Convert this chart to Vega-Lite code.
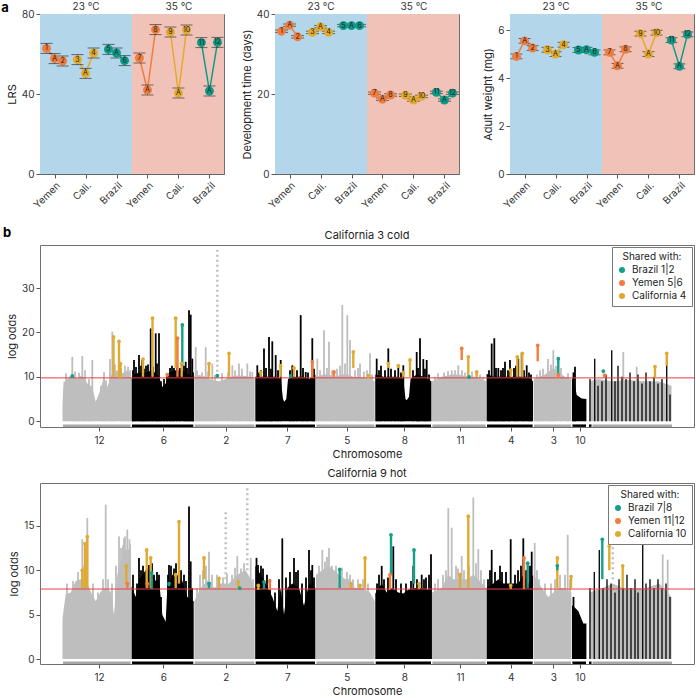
{
"$schema":"https://vega.github.io/schema/vega-lite/v6.json",
"padding":0,
"spacing":15,
"resolve":{"scale":{"color":"independent","fill":"independent"},"legend":{"color":"independent","fill":"independent"}},
"config":{
"font":"Inter",
"view":{"stroke":"#707070","strokeWidth":1},
"axis":{"labelFontSize":10,"titleFontSize":11,"titleFontWeight":"normal","labelColor":"#333333","titleColor":"#222222","tickColor":"#555555","domainColor":"#666666","grid":false,"tickSize":4},
"title":{"fontSize":11,"fontWeight":"normal","color":"#222222"}
},
"datasets":{
"bands":[{"s":0.53,"e":3.5,"c":"cold"},{"s":3.5,"e":6.47,"c":"hot"}],
"traits":[
{"pn":"L","g":1,"pop":"Yemen","lab":"1","x":0.74,"v":62.8,"lo":60.3,"hi":65.3},
{"pn":"L","g":1,"pop":"Yemen","lab":"A","x":1,"v":57.7,"lo":55.2,"hi":60.2},
{"pn":"L","g":1,"pop":"Yemen","lab":"2","x":1.26,"v":56.5,"lo":54,"hi":59},
{"pn":"L","g":2,"pop":"Cali.","lab":"3","x":1.74,"v":57.2,"lo":54.7,"hi":59.7},
{"pn":"L","g":2,"pop":"Cali.","lab":"A","x":2,"v":50.3,"lo":47.8,"hi":52.8},
{"pn":"L","g":2,"pop":"Cali.","lab":"4","x":2.26,"v":60.5,"lo":58,"hi":63},
{"pn":"L","g":3,"pop":"Brazil","lab":"5","x":2.74,"v":62.3,"lo":59.8,"hi":64.8},
{"pn":"L","g":3,"pop":"Brazil","lab":"A","x":3,"v":60.5,"lo":58,"hi":63},
{"pn":"L","g":3,"pop":"Brazil","lab":"6","x":3.26,"v":56.7,"lo":54.2,"hi":59.2},
{"pn":"L","g":4,"pop":"Yemen","lab":"7","x":3.74,"v":58,"lo":55.5,"hi":60.5},
{"pn":"L","g":4,"pop":"Yemen","lab":"A","x":4,"v":42,"lo":39.5,"hi":44.5},
{"pn":"L","g":4,"pop":"Yemen","lab":"8","x":4.26,"v":72.2,"lo":69.7,"hi":74.7},
{"pn":"L","g":5,"pop":"Cali.","lab":"9","x":4.74,"v":71,"lo":68.5,"hi":73.5},
{"pn":"L","g":5,"pop":"Cali.","lab":"A","x":5,"v":40.5,"lo":38,"hi":43},
{"pn":"L","g":5,"pop":"Cali.","lab":"10","x":5.26,"v":72,"lo":69.5,"hi":74.5},
{"pn":"L","g":6,"pop":"Brazil","lab":"11","x":5.74,"v":65.7,"lo":63.2,"hi":68.2},
{"pn":"L","g":6,"pop":"Brazil","lab":"A","x":6,"v":41.5,"lo":39,"hi":44},
{"pn":"L","g":6,"pop":"Brazil","lab":"12","x":6.26,"v":65.8,"lo":63.3,"hi":68.3},
{"pn":"D","g":1,"pop":"Yemen","lab":"1","x":0.74,"v":35.7,"lo":35.4,"hi":36},
{"pn":"D","g":1,"pop":"Yemen","lab":"A","x":1,"v":37.2,"lo":36.9,"hi":37.5},
{"pn":"D","g":1,"pop":"Yemen","lab":"2","x":1.26,"v":34.3,"lo":34,"hi":34.6},
{"pn":"D","g":2,"pop":"Cali.","lab":"3","x":1.74,"v":35.4,"lo":35.1,"hi":35.7},
{"pn":"D","g":2,"pop":"Cali.","lab":"A","x":2,"v":36.8,"lo":36.5,"hi":37.1},
{"pn":"D","g":2,"pop":"Cali.","lab":"4","x":2.26,"v":35.4,"lo":35.1,"hi":35.7},
{"pn":"D","g":3,"pop":"Brazil","lab":"5","x":2.74,"v":37.1,"lo":36.8,"hi":37.4},
{"pn":"D","g":3,"pop":"Brazil","lab":"A","x":3,"v":37.1,"lo":36.8,"hi":37.4},
{"pn":"D","g":3,"pop":"Brazil","lab":"6","x":3.26,"v":37.1,"lo":36.8,"hi":37.4},
{"pn":"D","g":4,"pop":"Yemen","lab":"7","x":3.74,"v":20.2,"lo":19.9,"hi":20.5},
{"pn":"D","g":4,"pop":"Yemen","lab":"A","x":4,"v":18.7,"lo":18.4,"hi":19},
{"pn":"D","g":4,"pop":"Yemen","lab":"8","x":4.26,"v":19.75,"lo":19.45,"hi":20.05},
{"pn":"D","g":5,"pop":"Cali.","lab":"9","x":4.74,"v":19.7,"lo":19.4,"hi":20},
{"pn":"D","g":5,"pop":"Cali.","lab":"A","x":5,"v":18.5,"lo":18.2,"hi":18.8},
{"pn":"D","g":5,"pop":"Cali.","lab":"10","x":5.26,"v":19.4,"lo":19.1,"hi":19.7},
{"pn":"D","g":6,"pop":"Brazil","lab":"11","x":5.74,"v":20.4,"lo":20.1,"hi":20.7},
{"pn":"D","g":6,"pop":"Brazil","lab":"A","x":6,"v":18.5,"lo":18.2,"hi":18.8},
{"pn":"D","g":6,"pop":"Brazil","lab":"12","x":6.26,"v":20.2,"lo":19.9,"hi":20.5},
{"pn":"W","g":1,"pop":"Yemen","lab":"1","x":0.74,"v":4.9,"lo":4.8,"hi":5},
{"pn":"W","g":1,"pop":"Yemen","lab":"A","x":1,"v":5.55,"lo":5.45,"hi":5.65},
{"pn":"W","g":1,"pop":"Yemen","lab":"2","x":1.26,"v":5.25,"lo":5.15,"hi":5.35},
{"pn":"W","g":2,"pop":"Cali.","lab":"3","x":1.74,"v":5.18,"lo":5.08,"hi":5.28},
{"pn":"W","g":2,"pop":"Cali.","lab":"A","x":2,"v":5,"lo":4.9,"hi":5.1},
{"pn":"W","g":2,"pop":"Cali.","lab":"4","x":2.26,"v":5.39,"lo":5.29,"hi":5.49},
{"pn":"W","g":3,"pop":"Brazil","lab":"5","x":2.74,"v":5.17,"lo":5.07,"hi":5.27},
{"pn":"W","g":3,"pop":"Brazil","lab":"A","x":3,"v":5.18,"lo":5.08,"hi":5.28},
{"pn":"W","g":3,"pop":"Brazil","lab":"6","x":3.26,"v":5.07,"lo":4.97,"hi":5.17},
{"pn":"W","g":4,"pop":"Yemen","lab":"7","x":3.74,"v":5.07,"lo":4.97,"hi":5.17},
{"pn":"W","g":4,"pop":"Yemen","lab":"A","x":4,"v":4.51,"lo":4.41,"hi":4.61},
{"pn":"W","g":4,"pop":"Yemen","lab":"8","x":4.26,"v":5.2,"lo":5.1,"hi":5.3},
{"pn":"W","g":5,"pop":"Cali.","lab":"9","x":4.74,"v":5.85,"lo":5.75,"hi":5.95},
{"pn":"W","g":5,"pop":"Cali.","lab":"A","x":5,"v":5,"lo":4.9,"hi":5.1},
{"pn":"W","g":5,"pop":"Cali.","lab":"10","x":5.26,"v":5.89,"lo":5.79,"hi":5.99},
{"pn":"W","g":6,"pop":"Brazil","lab":"11","x":5.74,"v":5.58,"lo":5.48,"hi":5.68},
{"pn":"W","g":6,"pop":"Brazil","lab":"A","x":6,"v":4.49,"lo":4.39,"hi":4.59},
{"pn":"W","g":6,"pop":"Brazil","lab":"12","x":6.26,"v":5.82,"lo":5.72,"hi":5.92}
],
"chroms":[
{"c":"12","p":"g","s":23,"e":90.6},
{"c":"6","p":"b","s":92,"e":153.3},
{"c":"2","p":"g","s":154.7,"e":214.3},
{"c":"7","p":"b","s":215.7,"e":275},
{"c":"5","p":"g","s":276.4,"e":334.3},
{"c":"8","p":"b","s":335.7,"e":391},
{"c":"11","p":"g","s":392.4,"e":445.6},
{"c":"4","p":"b","s":447,"e":492.6},
{"c":"3","p":"g","s":494,"e":531},
{"c":"10","p":"b","s":532.4,"e":546},
{"c":"Un","p":"b","s":549,"e":551.5},
{"c":"Un","p":"g","s":552.5,"e":632}
],
"cloud":[
{"pn":1,"c":"12","p":"g","x":22.5,"y":4},{"pn":1,"c":"12","p":"g","x":23.5,"y":8.9},{"pn":1,"c":"12","p":"g","x":25.7,"y":9},{"pn":1,"c":"12","p":"g","x":29,"y":10},{"pn":1,"c":"12","p":"g","x":32.3,"y":10.4},{"pn":1,"c":"12","p":"g","x":37.3,"y":9.6},{"pn":1,"c":"12","p":"g","x":42.3,"y":10.4},{"pn":1,"c":"12","p":"g","x":47.3,"y":8.5},{"pn":1,"c":"12","p":"g","x":52.3,"y":7.7},{"pn":1,"c":"12","p":"g","x":55.7,"y":4.4},{"pn":1,"c":"12","p":"g","x":59,"y":6.2},{"pn":1,"c":"12","p":"g","x":64,"y":10},{"pn":1,"c":"12","p":"g","x":67.3,"y":7.7},{"pn":1,"c":"12","p":"g","x":72.3,"y":11},{"pn":1,"c":"12","p":"g","x":77.3,"y":11.5},{"pn":1,"c":"12","p":"g","x":82.3,"y":10.8},{"pn":1,"c":"12","p":"g","x":87.3,"y":11.5},{"pn":1,"c":"12","p":"g","x":91,"y":10.4},
{"pn":1,"c":"6","p":"b","x":91.6,"y":9.6},{"pn":1,"c":"6","p":"b","x":94,"y":10.5},{"pn":1,"c":"6","p":"b","x":99,"y":11},{"pn":1,"c":"6","p":"b","x":105.7,"y":11},{"pn":1,"c":"6","p":"b","x":112.3,"y":11.5},{"pn":1,"c":"6","p":"b","x":119,"y":10},{"pn":1,"c":"6","p":"b","x":122.3,"y":7.7},{"pn":1,"c":"6","p":"b","x":125.7,"y":8.5},{"pn":1,"c":"6","p":"b","x":129,"y":11},{"pn":1,"c":"6","p":"b","x":135.7,"y":11.5},{"pn":1,"c":"6","p":"b","x":142.3,"y":11.5},{"pn":1,"c":"6","p":"b","x":149,"y":10.5},{"pn":1,"c":"6","p":"b","x":153.7,"y":10},
{"pn":1,"c":"2","p":"g","x":154.3,"y":10},{"pn":1,"c":"2","p":"g","x":159,"y":10.4},{"pn":1,"c":"2","p":"g","x":165.7,"y":10},{"pn":1,"c":"2","p":"g","x":172.3,"y":9.3},{"pn":1,"c":"2","p":"g","x":179,"y":9},{"pn":1,"c":"2","p":"g","x":185.7,"y":9.5},{"pn":1,"c":"2","p":"g","x":192.3,"y":10.2},{"pn":1,"c":"2","p":"g","x":199,"y":10.3},{"pn":1,"c":"2","p":"g","x":207.3,"y":10.2},{"pn":1,"c":"2","p":"g","x":214.7,"y":9.5},
{"pn":1,"c":"7","p":"b","x":215.3,"y":10},{"pn":1,"c":"7","p":"b","x":222.3,"y":10},{"pn":1,"c":"7","p":"b","x":229,"y":10},{"pn":1,"c":"7","p":"b","x":235.7,"y":10},{"pn":1,"c":"7","p":"b","x":240.7,"y":9.6},{"pn":1,"c":"7","p":"b","x":243,"y":5},{"pn":1,"c":"7","p":"b","x":244.3,"y":4.4},{"pn":1,"c":"7","p":"b","x":246.3,"y":5},{"pn":1,"c":"7","p":"b","x":248,"y":9.5},{"pn":1,"c":"7","p":"b","x":255.7,"y":10},{"pn":1,"c":"7","p":"b","x":262.3,"y":10},{"pn":1,"c":"7","p":"b","x":269,"y":9.5},{"pn":1,"c":"7","p":"b","x":275.4,"y":10.5},
{"pn":1,"c":"5","p":"g","x":276,"y":10},{"pn":1,"c":"5","p":"g","x":284,"y":10.5},{"pn":1,"c":"5","p":"g","x":289,"y":10.5},{"pn":1,"c":"5","p":"g","x":294,"y":10},{"pn":1,"c":"5","p":"g","x":302.3,"y":10.5},{"pn":1,"c":"5","p":"g","x":307.3,"y":10.5},{"pn":1,"c":"5","p":"g","x":313.3,"y":10},{"pn":1,"c":"5","p":"g","x":320,"y":10},{"pn":1,"c":"5","p":"g","x":328.3,"y":9.7},{"pn":1,"c":"5","p":"g","x":334.7,"y":9},
{"pn":1,"c":"8","p":"b","x":335.3,"y":10.5},{"pn":1,"c":"8","p":"b","x":343.3,"y":10},{"pn":1,"c":"8","p":"b","x":353.3,"y":10},{"pn":1,"c":"8","p":"b","x":358.3,"y":10},{"pn":1,"c":"8","p":"b","x":363.3,"y":9.5},{"pn":1,"c":"8","p":"b","x":365.5,"y":5},{"pn":1,"c":"8","p":"b","x":366.7,"y":4.7},{"pn":1,"c":"8","p":"b","x":369,"y":5.5},{"pn":1,"c":"8","p":"b","x":370.5,"y":9.5},{"pn":1,"c":"8","p":"b","x":376.7,"y":10.5},{"pn":1,"c":"8","p":"b","x":383.3,"y":10},{"pn":1,"c":"8","p":"b","x":391.4,"y":9},
{"pn":1,"c":"11","p":"g","x":392,"y":9},{"pn":1,"c":"11","p":"g","x":401.7,"y":10},{"pn":1,"c":"11","p":"g","x":411.7,"y":10.5},{"pn":1,"c":"11","p":"g","x":418.3,"y":10.5},{"pn":1,"c":"11","p":"g","x":428.3,"y":10},{"pn":1,"c":"11","p":"g","x":436.7,"y":10},{"pn":1,"c":"11","p":"g","x":446,"y":9},
{"pn":1,"c":"4","p":"b","x":446.6,"y":10.7},{"pn":1,"c":"4","p":"b","x":453.3,"y":10},{"pn":1,"c":"4","p":"b","x":458.3,"y":10},{"pn":1,"c":"4","p":"b","x":465,"y":10},{"pn":1,"c":"4","p":"b","x":471.7,"y":10},{"pn":1,"c":"4","p":"b","x":478.3,"y":10},{"pn":1,"c":"4","p":"b","x":486.7,"y":10},{"pn":1,"c":"4","p":"b","x":493,"y":9},
{"pn":1,"c":"3","p":"g","x":493.6,"y":9.5},{"pn":1,"c":"3","p":"g","x":505,"y":10.5},{"pn":1,"c":"3","p":"g","x":513.3,"y":12},{"pn":1,"c":"3","p":"g","x":518.3,"y":11},{"pn":1,"c":"3","p":"g","x":525,"y":10},{"pn":1,"c":"3","p":"g","x":531.4,"y":9.5},
{"pn":1,"c":"10","p":"b","x":532,"y":10},{"pn":1,"c":"10","p":"b","x":535,"y":8},{"pn":1,"c":"10","p":"b","x":536.7,"y":5.9},{"pn":1,"c":"10","p":"b","x":541.7,"y":5.1},{"pn":1,"c":"10","p":"b","x":546.4,"y":5},
{"pn":1,"c":"Un","p":"g","x":549.5,"y":9},{"pn":1,"c":"Un","p":"g","x":558.3,"y":9.5},{"pn":1,"c":"Un","p":"g","x":571.7,"y":9},{"pn":1,"c":"Un","p":"g","x":588.3,"y":9.3},{"pn":1,"c":"Un","p":"g","x":605,"y":9},{"pn":1,"c":"Un","p":"g","x":618.3,"y":9},{"pn":1,"c":"Un","p":"g","x":631.5,"y":8},
{"pn":2,"c":"12","p":"g","x":22.5,"y":4.6},{"pn":2,"c":"12","p":"g","x":25.7,"y":7.3},{"pn":2,"c":"12","p":"g","x":30.7,"y":7.5},{"pn":2,"c":"12","p":"g","x":35.7,"y":8.8},{"pn":2,"c":"12","p":"g","x":40.7,"y":9},{"pn":2,"c":"12","p":"g","x":45.7,"y":9},{"pn":2,"c":"12","p":"g","x":50.7,"y":7.6},{"pn":2,"c":"12","p":"g","x":55.7,"y":6.5},{"pn":2,"c":"12","p":"g","x":60.7,"y":7.6},{"pn":2,"c":"12","p":"g","x":65.7,"y":8},{"pn":2,"c":"12","p":"g","x":70.7,"y":7.6},{"pn":2,"c":"12","p":"g","x":74,"y":5},{"pn":2,"c":"12","p":"g","x":77.3,"y":9.5},{"pn":2,"c":"12","p":"g","x":82.3,"y":11.5},{"pn":2,"c":"12","p":"g","x":87.3,"y":12.5},{"pn":2,"c":"12","p":"g","x":91,"y":12},
{"pn":2,"c":"6","p":"b","x":91.6,"y":8.2},{"pn":2,"c":"6","p":"b","x":95.7,"y":7},{"pn":2,"c":"6","p":"b","x":99,"y":9},{"pn":2,"c":"6","p":"b","x":105.7,"y":10},{"pn":2,"c":"6","p":"b","x":110.7,"y":10},{"pn":2,"c":"6","p":"b","x":115.7,"y":8.8},{"pn":2,"c":"6","p":"b","x":119,"y":9},{"pn":2,"c":"6","p":"b","x":122.3,"y":5},{"pn":2,"c":"6","p":"b","x":125.7,"y":4.2},{"pn":2,"c":"6","p":"b","x":127.3,"y":8},{"pn":2,"c":"6","p":"b","x":132.3,"y":9.5},{"pn":2,"c":"6","p":"b","x":137.3,"y":9.5},{"pn":2,"c":"6","p":"b","x":142.3,"y":8.8},{"pn":2,"c":"6","p":"b","x":147.3,"y":7},{"pn":2,"c":"6","p":"b","x":153.7,"y":6.5},
{"pn":2,"c":"2","p":"g","x":154.3,"y":6.5},{"pn":2,"c":"2","p":"g","x":160.7,"y":8},{"pn":2,"c":"2","p":"g","x":169,"y":9},{"pn":2,"c":"2","p":"g","x":174,"y":8},{"pn":2,"c":"2","p":"g","x":180.7,"y":8.5},{"pn":2,"c":"2","p":"g","x":189,"y":8.5},{"pn":2,"c":"2","p":"g","x":197.3,"y":9.5},{"pn":2,"c":"2","p":"g","x":205.7,"y":10},{"pn":2,"c":"2","p":"g","x":210.7,"y":9},{"pn":2,"c":"2","p":"g","x":214.7,"y":8},
{"pn":2,"c":"7","p":"b","x":215.3,"y":10.5},{"pn":2,"c":"7","p":"b","x":220.7,"y":9.5},{"pn":2,"c":"7","p":"b","x":225.7,"y":8.5},{"pn":2,"c":"7","p":"b","x":232.3,"y":7},{"pn":2,"c":"7","p":"b","x":237.3,"y":5.4},{"pn":2,"c":"7","p":"b","x":240.7,"y":8},{"pn":2,"c":"7","p":"b","x":244,"y":5},{"pn":2,"c":"7","p":"b","x":247.3,"y":8},{"pn":2,"c":"7","p":"b","x":252.3,"y":8.5},{"pn":2,"c":"7","p":"b","x":259,"y":8},{"pn":2,"c":"7","p":"b","x":264,"y":6},{"pn":2,"c":"7","p":"b","x":269,"y":8.5},{"pn":2,"c":"7","p":"b","x":275.4,"y":8},
{"pn":2,"c":"5","p":"g","x":276,"y":9.5},{"pn":2,"c":"5","p":"g","x":282.3,"y":10},{"pn":2,"c":"5","p":"g","x":289,"y":10.5},{"pn":2,"c":"5","p":"g","x":299,"y":9.5},{"pn":2,"c":"5","p":"g","x":305.7,"y":9},{"pn":2,"c":"5","p":"g","x":310,"y":9},{"pn":2,"c":"5","p":"g","x":315,"y":8},{"pn":2,"c":"5","p":"g","x":321.7,"y":8},{"pn":2,"c":"5","p":"g","x":330,"y":7.5},{"pn":2,"c":"5","p":"g","x":334.7,"y":6.5},
{"pn":2,"c":"8","p":"b","x":335.3,"y":7.4},{"pn":2,"c":"8","p":"b","x":341.7,"y":8.5},{"pn":2,"c":"8","p":"b","x":346.7,"y":7.5},{"pn":2,"c":"8","p":"b","x":351.7,"y":8},{"pn":2,"c":"8","p":"b","x":358.3,"y":7.5},{"pn":2,"c":"8","p":"b","x":363.3,"y":7.4},{"pn":2,"c":"8","p":"b","x":368.3,"y":7.8},{"pn":2,"c":"8","p":"b","x":375,"y":8},{"pn":2,"c":"8","p":"b","x":381.7,"y":8},{"pn":2,"c":"8","p":"b","x":388.3,"y":7.8},{"pn":2,"c":"8","p":"b","x":391.4,"y":8},
{"pn":2,"c":"11","p":"g","x":392,"y":7.5},{"pn":2,"c":"11","p":"g","x":401.7,"y":8},{"pn":2,"c":"11","p":"g","x":408.3,"y":9.5},{"pn":2,"c":"11","p":"g","x":413.3,"y":9},{"pn":2,"c":"11","p":"g","x":420,"y":9},{"pn":2,"c":"11","p":"g","x":426.7,"y":9},{"pn":2,"c":"11","p":"g","x":433.3,"y":9.5},{"pn":2,"c":"11","p":"g","x":438.3,"y":9},{"pn":2,"c":"11","p":"g","x":446,"y":8},
{"pn":2,"c":"4","p":"b","x":446.6,"y":8},{"pn":2,"c":"4","p":"b","x":453.3,"y":8.5},{"pn":2,"c":"4","p":"b","x":458.3,"y":9},{"pn":2,"c":"4","p":"b","x":463.3,"y":8.5},{"pn":2,"c":"4","p":"b","x":468.3,"y":8.5},{"pn":2,"c":"4","p":"b","x":473.3,"y":8.5},{"pn":2,"c":"4","p":"b","x":478.3,"y":8.5},{"pn":2,"c":"4","p":"b","x":483.3,"y":9.5},{"pn":2,"c":"4","p":"b","x":488.3,"y":8.5},{"pn":2,"c":"4","p":"b","x":493,"y":9.5},
{"pn":2,"c":"3","p":"g","x":493.6,"y":9.5},{"pn":2,"c":"3","p":"g","x":501.7,"y":8},{"pn":2,"c":"3","p":"g","x":508.3,"y":7},{"pn":2,"c":"3","p":"g","x":513.3,"y":7.5},{"pn":2,"c":"3","p":"g","x":518.3,"y":8},{"pn":2,"c":"3","p":"g","x":523.3,"y":8},{"pn":2,"c":"3","p":"g","x":531.4,"y":7.5},
{"pn":2,"c":"10","p":"b","x":532,"y":6.1},{"pn":2,"c":"10","p":"b","x":538.3,"y":5.4},{"pn":2,"c":"10","p":"b","x":543.3,"y":4},{"pn":2,"c":"10","p":"b","x":546.4,"y":4},
{"pn":2,"c":"Un","p":"g","x":549.5,"y":7.5},{"pn":2,"c":"Un","p":"g","x":562.7,"y":8},{"pn":2,"c":"Un","p":"g","x":572.7,"y":8.5},{"pn":2,"c":"Un","p":"g","x":582.7,"y":8},{"pn":2,"c":"Un","p":"g","x":596,"y":8},{"pn":2,"c":"Un","p":"g","x":606,"y":8},{"pn":2,"c":"Un","p":"g","x":619.3,"y":8.5},{"pn":2,"c":"Un","p":"g","x":631.5,"y":7}
],
"un":[
{"pn":1,"x":550,"y":9.5},{"pn":1,"x":554.7,"y":14.1},{"pn":1,"x":558,"y":8},{"pn":1,"x":562,"y":9},{"pn":1,"x":566,"y":10.5},{"pn":1,"x":571.7,"y":16},{"pn":1,"x":575,"y":9},{"pn":1,"x":578,"y":12.5},{"pn":1,"x":582,"y":10},{"pn":1,"x":586,"y":9.5},{"pn":1,"x":590,"y":11},{"pn":1,"x":594,"y":9},{"pn":1,"x":598,"y":10.5},{"pn":1,"x":602,"y":8.5},{"pn":1,"x":606,"y":11},{"pn":1,"x":610,"y":9},{"pn":1,"x":614,"y":10},{"pn":1,"x":618,"y":8.5},{"pn":1,"x":622,"y":9.5},{"pn":1,"x":626.7,"y":15.3},{"pn":1,"x":630,"y":6},
{"pn":2,"x":550,"y":8},{"pn":2,"x":554.3,"y":9.8},{"pn":2,"x":559.3,"y":12.3},{"pn":2,"x":563,"y":8},{"pn":2,"x":567,"y":9},{"pn":2,"x":571,"y":8.5},{"pn":2,"x":575,"y":7.5},{"pn":2,"x":579,"y":9},{"pn":2,"x":583,"y":8},{"pn":2,"x":587,"y":9.5},{"pn":2,"x":591,"y":8},{"pn":2,"x":595,"y":9},{"pn":2,"x":598,"y":7.5},{"pn":2,"x":602.7,"y":12.9},{"pn":2,"x":606,"y":8.5},{"pn":2,"x":610,"y":9},{"pn":2,"x":614,"y":8},{"pn":2,"x":618,"y":9},{"pn":2,"x":622,"y":8},{"pn":2,"x":626,"y":8.5},{"pn":2,"x":630,"y":7}
],
"spikes":[
{"pn":1,"p":"g","x":32.3,"y":14.5},{"pn":1,"p":"g","x":42.3,"y":14.7},{"pn":1,"p":"g","x":52.3,"y":13.8},{"pn":1,"p":"g","x":64,"y":11.1},{"pn":1,"p":"g","x":70,"y":14},{"pn":1,"p":"g","x":72.3,"y":20.2},{"pn":1,"p":"g","x":85,"y":12.5},
{"pn":1,"p":"g","x":26,"y":10.8},{"pn":1,"p":"g","x":35,"y":11.2},{"pn":1,"p":"g","x":39,"y":10.9},{"pn":1,"p":"g","x":45,"y":11.5},{"pn":1,"p":"g","x":49,"y":9.5},{"pn":1,"p":"g","x":61,"y":8},{"pn":1,"p":"g","x":66,"y":9.2},{"pn":1,"p":"g","x":75,"y":12.8},{"pn":1,"p":"g","x":81,"y":12},{"pn":1,"p":"g","x":88,"y":12.3},{"pn":1,"p":"g","x":90,"y":11.5},
{"pn":1,"p":"b","x":94,"y":13.8},{"pn":1,"p":"b","x":99,"y":14.9},{"pn":1,"p":"b","x":102.3,"y":13.8},{"pn":1,"p":"b","x":106,"y":12.5},{"pn":1,"p":"b","x":110.7,"y":20.9},{"pn":1,"p":"b","x":115.7,"y":19.8},{"pn":1,"p":"b","x":119,"y":19.8},{"pn":1,"p":"b","x":130,"y":12},{"pn":1,"p":"b","x":140,"y":12},{"pn":1,"p":"b","x":145.7,"y":13.4},{"pn":1,"p":"b","x":149,"y":25},{"pn":1,"p":"b","x":150.7,"y":24},{"pn":1,"p":"b","x":152.3,"y":14.1},
{"pn":1,"p":"b","x":93,"y":11.5},{"pn":1,"p":"b","x":96,"y":12.2},{"pn":1,"p":"b","x":101,"y":12.5},{"pn":1,"p":"b","x":104,"y":11.8},{"pn":1,"p":"b","x":108,"y":12.8},{"pn":1,"p":"b","x":113,"y":12.3},{"pn":1,"p":"b","x":117,"y":13},{"pn":1,"p":"b","x":121,"y":9},{"pn":1,"p":"b","x":124,"y":9.5},{"pn":1,"p":"b","x":127,"y":10.8},{"pn":1,"p":"b","x":132,"y":12.5},{"pn":1,"p":"b","x":134,"y":12},{"pn":1,"p":"b","x":137,"y":13},{"pn":1,"p":"b","x":144,"y":12.5},{"pn":1,"p":"b","x":147,"y":12},{"pn":1,"p":"b","x":153,"y":11},
{"pn":1,"p":"g","x":155.7,"y":16.7},{"pn":1,"p":"g","x":165.7,"y":16.7},{"pn":1,"p":"g","x":172.3,"y":13},{"pn":1,"p":"g","x":192.3,"y":12.6},{"pn":1,"p":"g","x":199,"y":13},{"pn":1,"p":"g","x":207.3,"y":13},{"pn":1,"p":"g","x":212.3,"y":11.1},
{"pn":1,"p":"g","x":157,"y":11.4},{"pn":1,"p":"g","x":162,"y":11},{"pn":1,"p":"g","x":168,"y":11.2},{"pn":1,"p":"g","x":175,"y":10.4},{"pn":1,"p":"g","x":182,"y":10.8},{"pn":1,"p":"g","x":188,"y":11},{"pn":1,"p":"g","x":195,"y":11.5},{"pn":1,"p":"g","x":202,"y":11.8},{"pn":1,"p":"g","x":210,"y":11.2},
{"pn":1,"p":"b","x":217.3,"y":12.6},{"pn":1,"p":"b","x":224,"y":16.4},{"pn":1,"p":"b","x":229,"y":19},{"pn":1,"p":"b","x":232.3,"y":18},{"pn":1,"p":"b","x":235.7,"y":14.9},{"pn":1,"p":"b","x":240.7,"y":13.8},{"pn":1,"p":"b","x":252.3,"y":12.6},{"pn":1,"p":"b","x":260.7,"y":23.9},{"pn":1,"p":"b","x":265.7,"y":11.1},{"pn":1,"p":"b","x":272.3,"y":18.7},
{"pn":1,"p":"b","x":219,"y":11},{"pn":1,"p":"b","x":221,"y":11.5},{"pn":1,"p":"b","x":226,"y":12},{"pn":1,"p":"b","x":231,"y":11.8},{"pn":1,"p":"b","x":238,"y":11.5},{"pn":1,"p":"b","x":250,"y":11.5},{"pn":1,"p":"b","x":254,"y":11.2},{"pn":1,"p":"b","x":257,"y":11.5},{"pn":1,"p":"b","x":263,"y":12},{"pn":1,"p":"b","x":268,"y":11},{"pn":1,"p":"b","x":274,"y":11.8},
{"pn":1,"p":"g","x":277.3,"y":14.1},{"pn":1,"p":"g","x":284,"y":20.5},{"pn":1,"p":"g","x":289,"y":17.9},{"pn":1,"p":"g","x":302.3,"y":26.2},{"pn":1,"p":"g","x":307.3,"y":23.9},{"pn":1,"p":"g","x":310,"y":18.3},{"pn":1,"p":"g","x":320,"y":13},{"pn":1,"p":"g","x":330,"y":15.3},
{"pn":1,"p":"g","x":280,"y":11.5},{"pn":1,"p":"g","x":287,"y":12},{"pn":1,"p":"g","x":292,"y":11.5},{"pn":1,"p":"g","x":297,"y":11.8},{"pn":1,"p":"g","x":300,"y":12.5},{"pn":1,"p":"g","x":305,"y":13},{"pn":1,"p":"g","x":315,"y":11.5},{"pn":1,"p":"g","x":318,"y":12},{"pn":1,"p":"g","x":324,"y":11.2},{"pn":1,"p":"g","x":327,"y":11.5},{"pn":1,"p":"g","x":332,"y":10.5},
{"pn":1,"p":"b","x":336.7,"y":14.1},{"pn":1,"p":"b","x":348.3,"y":16.4},{"pn":1,"p":"b","x":358.3,"y":12.6},{"pn":1,"p":"b","x":363.3,"y":12.6},{"pn":1,"p":"b","x":376.7,"y":15.6},{"pn":1,"p":"b","x":380,"y":18.7},{"pn":1,"p":"b","x":383.3,"y":14},{"pn":1,"p":"b","x":386.7,"y":13.8},
{"pn":1,"p":"b","x":339,"y":11.5},{"pn":1,"p":"b","x":341,"y":12.5},{"pn":1,"p":"b","x":345,"y":11.5},{"pn":1,"p":"b","x":351,"y":11.8},{"pn":1,"p":"b","x":355,"y":11.5},{"pn":1,"p":"b","x":361,"y":11},{"pn":1,"p":"b","x":373,"y":11.5},{"pn":1,"p":"b","x":378,"y":12},{"pn":1,"p":"b","x":385,"y":11.8},{"pn":1,"p":"b","x":389,"y":10.5},
{"pn":1,"p":"g","x":411.7,"y":11.5},{"pn":1,"p":"g","x":418.3,"y":12.6},{"pn":1,"p":"g","x":436.7,"y":11},
{"pn":1,"p":"g","x":395,"y":10},{"pn":1,"p":"g","x":398,"y":10.8},{"pn":1,"p":"g","x":404,"y":11},{"pn":1,"p":"g","x":408,"y":11.3},{"pn":1,"p":"g","x":415,"y":11.5},{"pn":1,"p":"g","x":422,"y":11.5},{"pn":1,"p":"g","x":425,"y":11},{"pn":1,"p":"g","x":432,"y":11.2},{"pn":1,"p":"g","x":440,"y":10.5},{"pn":1,"p":"g","x":443,"y":10},
{"pn":1,"p":"b","x":451.7,"y":17.5},{"pn":1,"p":"b","x":454.3,"y":18.7},{"pn":1,"p":"b","x":458.3,"y":12},{"pn":1,"p":"b","x":465,"y":13.4},{"pn":1,"p":"b","x":470,"y":13.8},{"pn":1,"p":"b","x":478.3,"y":14.1},{"pn":1,"p":"b","x":481.7,"y":15.3},{"pn":1,"p":"b","x":486.7,"y":12.6},
{"pn":1,"p":"b","x":449,"y":11.5},{"pn":1,"p":"b","x":456,"y":12},{"pn":1,"p":"b","x":461,"y":11.5},{"pn":1,"p":"b","x":463,"y":12},{"pn":1,"p":"b","x":468,"y":11.5},{"pn":1,"p":"b","x":474,"y":12},{"pn":1,"p":"b","x":476,"y":12.5},{"pn":1,"p":"b","x":484,"y":11.5},{"pn":1,"p":"b","x":489,"y":11},{"pn":1,"p":"b","x":491,"y":10.5},
{"pn":1,"p":"g","x":508,"y":14},{"pn":1,"p":"g","x":513.3,"y":16},
{"pn":1,"p":"g","x":497,"y":10.5},{"pn":1,"p":"g","x":500,"y":11.5},{"pn":1,"p":"g","x":503,"y":11.8},{"pn":1,"p":"g","x":511,"y":12.8},{"pn":1,"p":"g","x":516,"y":12.5},{"pn":1,"p":"g","x":521,"y":12},{"pn":1,"p":"g","x":528,"y":10.8},
{"pn":1,"p":"b","x":535,"y":12.3},{"pn":1,"p":"b","x":533.5,"y":11},
{"pn":1,"p":"g","x":583.3,"y":15.6},{"pn":1,"p":"g","x":596.7,"y":12.3},
{"pn":2,"p":"g","x":42.3,"y":13.5},{"pn":2,"p":"g","x":47.3,"y":15.9},{"pn":2,"p":"g","x":65.7,"y":17.4},{"pn":2,"p":"g","x":76,"y":10.5},{"pn":2,"p":"g","x":79,"y":13.8},{"pn":2,"p":"g","x":84,"y":13.6},{"pn":2,"p":"g","x":87.3,"y":14.6},{"pn":2,"p":"g","x":89.5,"y":13.5},
{"pn":2,"p":"g","x":27,"y":8.5},{"pn":2,"p":"g","x":33,"y":8.8},{"pn":2,"p":"g","x":38,"y":9.8},{"pn":2,"p":"g","x":44,"y":10.5},{"pn":2,"p":"g","x":53,"y":8.5},{"pn":2,"p":"g","x":58,"y":7.5},{"pn":2,"p":"g","x":63,"y":9},{"pn":2,"p":"g","x":68,"y":9},{"pn":2,"p":"g","x":72,"y":8.5},{"pn":2,"p":"g","x":81,"y":12.5},{"pn":2,"p":"g","x":83,"y":12.8},{"pn":2,"p":"g","x":85,"y":13.8},{"pn":2,"p":"g","x":90,"y":13},
{"pn":2,"p":"b","x":99,"y":11.4},{"pn":2,"p":"b","x":109,"y":10.6},{"pn":2,"p":"b","x":119,"y":9.5},{"pn":2,"p":"b","x":129,"y":10.6},{"pn":2,"p":"b","x":139,"y":11.5},{"pn":2,"p":"b","x":149,"y":17.2},{"pn":2,"p":"b","x":150.7,"y":11},
{"pn":2,"p":"b","x":93,"y":9.5},{"pn":2,"p":"b","x":97,"y":8.5},{"pn":2,"p":"b","x":101,"y":10},{"pn":2,"p":"b","x":103,"y":10.5},{"pn":2,"p":"b","x":107,"y":10.2},{"pn":2,"p":"b","x":112,"y":10.8},{"pn":2,"p":"b","x":114,"y":9.5},{"pn":2,"p":"b","x":117,"y":9.8},{"pn":2,"p":"b","x":121,"y":7},{"pn":2,"p":"b","x":128,"y":9.5},{"pn":2,"p":"b","x":131,"y":10.5},{"pn":2,"p":"b","x":134,"y":10.2},{"pn":2,"p":"b","x":136,"y":10.8},{"pn":2,"p":"b","x":141,"y":10},{"pn":2,"p":"b","x":144,"y":9.5},{"pn":2,"p":"b","x":146,"y":8.8},{"pn":2,"p":"b","x":152,"y":8},
{"pn":2,"p":"g","x":169,"y":12.1},{"pn":2,"p":"g","x":197.3,"y":11.6},{"pn":2,"p":"g","x":210.7,"y":11.4},
{"pn":2,"p":"g","x":157,"y":8},{"pn":2,"p":"g","x":160,"y":9.5},{"pn":2,"p":"g","x":163,"y":10},{"pn":2,"p":"g","x":166,"y":10.5},{"pn":2,"p":"g","x":172,"y":9.5},{"pn":2,"p":"g","x":177,"y":9.5},{"pn":2,"p":"g","x":183,"y":9.2},{"pn":2,"p":"g","x":187,"y":9.6},{"pn":2,"p":"g","x":192,"y":9.5},{"pn":2,"p":"g","x":195,"y":10.3},{"pn":2,"p":"g","x":201,"y":10.2},{"pn":2,"p":"g","x":204,"y":10.8},{"pn":2,"p":"g","x":213,"y":9},
{"pn":2,"p":"b","x":218,"y":10.6},{"pn":2,"p":"b","x":242.3,"y":13.6},{"pn":2,"p":"b","x":254,"y":11.4},{"pn":2,"p":"b","x":269,"y":12.3},{"pn":2,"p":"b","x":272.3,"y":10.6},
{"pn":2,"p":"b","x":216.5,"y":11.4},{"pn":2,"p":"b","x":221,"y":10.5},{"pn":2,"p":"b","x":223,"y":10.2},{"pn":2,"p":"b","x":227,"y":9.5},{"pn":2,"p":"b","x":230,"y":9},{"pn":2,"p":"b","x":235,"y":7.5},{"pn":2,"p":"b","x":239,"y":9},{"pn":2,"p":"b","x":246,"y":9.2},{"pn":2,"p":"b","x":250,"y":9.8},{"pn":2,"p":"b","x":256,"y":9.8},{"pn":2,"p":"b","x":258,"y":10},{"pn":2,"p":"b","x":262,"y":8.5},{"pn":2,"p":"b","x":266,"y":9.2},{"pn":2,"p":"b","x":271,"y":10},{"pn":2,"p":"b","x":274,"y":9.2},
{"pn":2,"p":"g","x":282.3,"y":12.3},{"pn":2,"p":"g","x":289,"y":12.5},{"pn":2,"p":"g","x":310,"y":9.5},
{"pn":2,"p":"g","x":279,"y":10.5},{"pn":2,"p":"g","x":285,"y":11},{"pn":2,"p":"g","x":287,"y":11.5},{"pn":2,"p":"g","x":292,"y":10.5},{"pn":2,"p":"g","x":296,"y":10.5},{"pn":2,"p":"g","x":302,"y":10.3},{"pn":2,"p":"g","x":307,"y":9.8},{"pn":2,"p":"g","x":313,"y":9},{"pn":2,"p":"g","x":318,"y":9},{"pn":2,"p":"g","x":323,"y":9},{"pn":2,"p":"g","x":328,"y":8.5},
{"pn":2,"p":"b","x":341.7,"y":10.5},{"pn":2,"p":"b","x":353.3,"y":12.7},{"pn":2,"p":"b","x":373.3,"y":10.5},{"pn":2,"p":"b","x":381.7,"y":9.5},{"pn":2,"p":"b","x":391,"y":11.8},
{"pn":2,"p":"b","x":337,"y":8.5},{"pn":2,"p":"b","x":339,"y":9.5},{"pn":2,"p":"b","x":344,"y":9},{"pn":2,"p":"b","x":348,"y":9.2},{"pn":2,"p":"b","x":356,"y":9},{"pn":2,"p":"b","x":361,"y":8.5},{"pn":2,"p":"b","x":366,"y":8.5},{"pn":2,"p":"b","x":371,"y":8.8},{"pn":2,"p":"b","x":377,"y":9},{"pn":2,"p":"b","x":384,"y":9},{"pn":2,"p":"b","x":386,"y":9.2},{"pn":2,"p":"b","x":389,"y":9.5},
{"pn":2,"p":"g","x":408.3,"y":17},{"pn":2,"p":"g","x":411.7,"y":14.8},{"pn":2,"p":"g","x":421.7,"y":11.6},{"pn":2,"p":"g","x":433.3,"y":18.2},{"pn":2,"p":"g","x":438.3,"y":12.4},
{"pn":2,"p":"g","x":395,"y":8.5},{"pn":2,"p":"g","x":398,"y":9},{"pn":2,"p":"g","x":403,"y":9.5},{"pn":2,"p":"g","x":406,"y":10},{"pn":2,"p":"g","x":416,"y":10.5},{"pn":2,"p":"g","x":418,"y":10.2},{"pn":2,"p":"g","x":424,"y":10},{"pn":2,"p":"g","x":429,"y":10.5},{"pn":2,"p":"g","x":436,"y":10.8},{"pn":2,"p":"g","x":441,"y":10},{"pn":2,"p":"g","x":444,"y":9},
{"pn":2,"p":"b","x":451.7,"y":12.3},{"pn":2,"p":"b","x":470.7,"y":13.5},{"pn":2,"p":"b","x":483.3,"y":13.6},{"pn":2,"p":"b","x":491.7,"y":12.1},
{"pn":2,"p":"b","x":448,"y":9},{"pn":2,"p":"b","x":450,"y":10},{"pn":2,"p":"b","x":455,"y":9.8},{"pn":2,"p":"b","x":460,"y":10.5},{"pn":2,"p":"b","x":462,"y":9.8},{"pn":2,"p":"b","x":466,"y":9.8},{"pn":2,"p":"b","x":475,"y":9.5},{"pn":2,"p":"b","x":478,"y":10},{"pn":2,"p":"b","x":481,"y":10.5},{"pn":2,"p":"b","x":486,"y":10},{"pn":2,"p":"b","x":490,"y":10.5},
{"pn":2,"p":"g","x":494.7,"y":13.1},{"pn":2,"p":"g","x":527.7,"y":14},
{"pn":2,"p":"g","x":497,"y":10},{"pn":2,"p":"g","x":499,"y":9},{"pn":2,"p":"g","x":505,"y":8.5},{"pn":2,"p":"g","x":511,"y":8.5},{"pn":2,"p":"g","x":515,"y":9},{"pn":2,"p":"g","x":520,"y":9.5},{"pn":2,"p":"g","x":525,"y":9.5},{"pn":2,"p":"g","x":530,"y":9},
{"pn":2,"p":"b","x":533.5,"y":7},
{"pn":2,"p":"g","x":622.7,"y":11.8},{"pn":2,"p":"g","x":627.7,"y":11.2}
],
"sparse":[
{"pn":1,"x":177.3,"lo":10,"hi":38.6},
{"pn":2,"x":185.7,"lo":9,"hi":16.8},
{"pn":2,"x":207.3,"lo":10,"hi":19.3},
{"pn":2,"x":572.7,"lo":9,"hi":15.9}
],
"shared":[
{"pn":1,"s":"California 4","x":73.5,"lo":10,"hi":19},{"pn":1,"s":"California 4","x":79,"lo":9.8,"hi":18},{"pn":1,"s":"California 4","x":80.5,"lo":9.8,"hi":13},{"pn":1,"s":"California 4","x":103,"lo":10,"hi":14},{"pn":1,"s":"California 4","x":112.5,"lo":10,"hi":23.2},{"pn":1,"s":"California 4","x":135.7,"lo":12,"hi":23.2},{"pn":1,"s":"California 4","x":141.7,"lo":10,"hi":13},{"pn":1,"s":"California 4","x":169,"lo":10,"hi":13},{"pn":1,"s":"California 4","x":189,"lo":10,"hi":15.3},{"pn":1,"s":"California 4","x":220.7,"lo":10,"hi":11},{"pn":1,"s":"California 4","x":240.7,"lo":10,"hi":12.5},{"pn":1,"s":"California 4","x":254,"lo":10,"hi":12},{"pn":1,"s":"California 4","x":313.3,"lo":12,"hi":15.6},{"pn":1,"s":"California 4","x":328.3,"lo":9.7,"hi":10.3},{"pn":1,"s":"California 4","x":348.3,"lo":12,"hi":13},{"pn":1,"s":"California 4","x":358.3,"lo":12,"hi":12.5},{"pn":1,"s":"California 4","x":363.3,"lo":10,"hi":11},{"pn":1,"s":"California 4","x":370,"lo":10,"hi":13.8},{"pn":1,"s":"California 4","x":428.3,"lo":10,"hi":14.5},{"pn":1,"s":"California 4","x":436.7,"lo":10,"hi":11.1},{"pn":1,"s":"California 4","x":470.7,"lo":10,"hi":11.5},{"pn":1,"s":"California 4","x":477.3,"lo":10,"hi":14.5},{"pn":1,"s":"California 4","x":482.3,"lo":10,"hi":15.3},{"pn":1,"s":"California 4","x":615,"lo":9.8,"hi":12.3},{"pn":1,"s":"California 4","x":626.7,"lo":12.5,"hi":15.3},
{"pn":1,"s":"Yemen 5|6","x":127.3,"lo":10,"hi":10.5},{"pn":1,"s":"Yemen 5|6","x":137.5,"lo":10,"hi":18.7},{"pn":1,"s":"Yemen 5|6","x":272.3,"lo":9.8,"hi":13.4},{"pn":1,"s":"Yemen 5|6","x":294,"lo":10,"hi":11.1},{"pn":1,"s":"Yemen 5|6","x":421.7,"lo":13.8,"hi":16.4},{"pn":1,"s":"Yemen 5|6","x":497.7,"lo":13.5,"hi":17.1},{"pn":1,"s":"Yemen 5|6","x":518.3,"lo":9.8,"hi":10.5},{"pn":1,"s":"Yemen 5|6","x":564.5,"lo":9.8,"hi":10.4},
{"pn":1,"s":"Brazil 1|2","x":32.3,"lo":9.8,"hi":10.2},{"pn":1,"s":"Brazil 1|2","x":142.3,"lo":12.5,"hi":21.7},{"pn":1,"s":"Brazil 1|2","x":177.3,"lo":9.8,"hi":10.3},{"pn":1,"s":"Brazil 1|2","x":250.7,"lo":9.8,"hi":10.2},{"pn":1,"s":"Brazil 1|2","x":429,"lo":9.6,"hi":10},{"pn":1,"s":"Brazil 1|2","x":518.3,"lo":10.5,"hi":14.1},{"pn":1,"s":"Brazil 1|2","x":563.3,"lo":11,"hi":11.3},
{"pn":2,"s":"California 10","x":42.3,"lo":8,"hi":10},{"pn":2,"s":"California 10","x":45,"lo":8,"hi":13},{"pn":2,"s":"California 10","x":47.3,"lo":8,"hi":13.8},{"pn":2,"s":"California 10","x":86.3,"lo":8.5,"hi":10.5},{"pn":2,"s":"California 10","x":106.7,"lo":8,"hi":12.3},{"pn":2,"s":"California 10","x":110.7,"lo":8,"hi":11.4},{"pn":2,"s":"California 10","x":135.7,"lo":8,"hi":9.5},{"pn":2,"s":"California 10","x":139,"lo":8.5,"hi":15.5},{"pn":2,"s":"California 10","x":164,"lo":9,"hi":11.4},{"pn":2,"s":"California 10","x":179,"lo":8,"hi":9.1},{"pn":2,"s":"California 10","x":198.3,"lo":7.9,"hi":8.7},{"pn":2,"s":"California 10","x":218.3,"lo":7.8,"hi":8.3},{"pn":2,"s":"California 10","x":311,"lo":8,"hi":8.5},{"pn":2,"s":"California 10","x":320,"lo":8,"hi":8.3},{"pn":2,"s":"California 10","x":325,"lo":8,"hi":11.4},{"pn":2,"s":"California 10","x":379,"lo":7.9,"hi":8.5},{"pn":2,"s":"California 10","x":420,"lo":8,"hi":9.5},{"pn":2,"s":"California 10","x":428.3,"lo":8,"hi":16.1},{"pn":2,"s":"California 10","x":470.7,"lo":7.9,"hi":8.3},{"pn":2,"s":"California 10","x":517.3,"lo":8,"hi":11.4},{"pn":2,"s":"California 10","x":531,"lo":8,"hi":9.3},{"pn":2,"s":"California 10","x":569.3,"lo":10,"hi":12.7},{"pn":2,"s":"California 10","x":582.7,"lo":8,"hi":10.5},
{"pn":2,"s":"Yemen 11|12","x":87.3,"lo":8,"hi":8.5},{"pn":2,"s":"Yemen 11|12","x":107.3,"lo":8,"hi":8.5},{"pn":2,"s":"Yemen 11|12","x":229.7,"lo":7.8,"hi":8.8},{"pn":2,"s":"Yemen 11|12","x":350,"lo":7.9,"hi":9.5},{"pn":2,"s":"Yemen 11|12","x":484,"lo":7.9,"hi":11.4},
{"pn":2,"s":"Brazil 7|8","x":111.7,"lo":7.9,"hi":9.7},{"pn":2,"s":"Brazil 7|8","x":129,"lo":8.2,"hi":8.5},{"pn":2,"s":"Brazil 7|8","x":169,"lo":8,"hi":8.5},{"pn":2,"s":"Brazil 7|8","x":199.7,"lo":7.8,"hi":8},{"pn":2,"s":"Brazil 7|8","x":224,"lo":7.9,"hi":8.7},{"pn":2,"s":"Brazil 7|8","x":299.7,"lo":8,"hi":10.1},{"pn":2,"s":"Brazil 7|8","x":351,"lo":9.5,"hi":14},{"pn":2,"s":"Brazil 7|8","x":374,"lo":8.5,"hi":12.3},{"pn":2,"s":"Brazil 7|8","x":487.7,"lo":8,"hi":10.8},{"pn":2,"s":"Brazil 7|8","x":517.3,"lo":10,"hi":10.5},{"pn":2,"s":"Brazil 7|8","x":562.3,"lo":9,"hi":13.5}
]
},
"vconcat":[
{"hconcat":[
{"width":184,"height":160,
"title":{"text":"a","anchor":"start","frame":"bounds","fontSize":13,"fontWeight":"bold","offset":-14,"dx":-5,"color":"#000000"},
"resolve":{"axis":{"x":"independent"}},
"layer":[
{"data":{"name":"bands"},"mark":{"type":"rect"},"encoding":{"x":{"field":"s","type":"quantitative","scale":{"domain":[0.53,6.47],"nice":false,"zero":false},"axis":{"orient":"top","values":[2,5],"labelExpr":"datum.value < 3 ? '23 °C' : '35 °C'","ticks":false,"domain":false,"title":null,"labelPadding":3,"labelFlush":false}},"x2":{"field":"e"},"fill":{"field":"c","type":"nominal","scale":{"domain":["cold","hot"],"range":["#B3D6EA","#F1C2B8"]},"legend":null}}},
{"data":{"name":"traits"},"transform":[{"filter":"datum.pn=='L'"}],"mark":{"type":"line","strokeWidth":1.5},"encoding":{"x":{"field":"x","type":"quantitative","axis":{"orient":"bottom","values":[1,2,3,4,5,6],"labelExpr":"['Yemen','Cali.','Brazil','Yemen','Cali.','Brazil'][datum.value-1]","labelAngle":-45,"title":null,"labelFlush":false}},"y":{"field":"v","type":"quantitative","scale":{"domain":[0,80],"nice":false},"axis":{"values":[0,20,40,60,80],"title":"LRS"}},"color":{"field":"pop","type":"nominal","scale":{"domain":["Yemen","Cali.","Brazil"],"range":["#EF7D3F","#E3AA2C","#0D9B87"]},"legend":null},"detail":{"field":"g"},"order":{"field":"x"}}},
{"data":{"name":"traits"},"transform":[{"filter":"datum.pn=='L'"}],"mark":{"type":"rule","color":"#444444","strokeWidth":1},"encoding":{"x":{"field":"x","type":"quantitative","axis":null},"y":{"field":"lo","type":"quantitative"},"y2":{"field":"hi"}}},
{"data":{"name":"traits"},"transform":[{"filter":"datum.pn=='L'"}],"mark":{"type":"tick","orient":"horizontal","size":12,"thickness":1,"color":"#333333"},"encoding":{"x":{"field":"x","type":"quantitative","axis":null},"y":{"field":"lo","type":"quantitative"}}},
{"data":{"name":"traits"},"transform":[{"filter":"datum.pn=='L'"}],"mark":{"type":"tick","orient":"horizontal","size":12,"thickness":1,"color":"#333333"},"encoding":{"x":{"field":"x","type":"quantitative","axis":null},"y":{"field":"hi","type":"quantitative"}}},
{"data":{"name":"traits"},"transform":[{"filter":"datum.pn=='L'"}],"mark":{"type":"point","filled":true,"size":80,"opacity":1},"encoding":{"x":{"field":"x","type":"quantitative","axis":null},"y":{"field":"v","type":"quantitative"},"color":{"field":"pop","type":"nominal","legend":null}}},
{"data":{"name":"traits"},"transform":[{"filter":"datum.pn=='L'"}],"mark":{"type":"text","fontSize":7,"color":"#222222"},"encoding":{"x":{"field":"x","type":"quantitative","axis":null},"y":{"field":"v","type":"quantitative"},"text":{"field":"lab"}}}
]},
{"width":184,"height":160,
"resolve":{"axis":{"x":"independent"}},
"layer":[
{"data":{"name":"bands"},"mark":{"type":"rect"},"encoding":{"x":{"field":"s","type":"quantitative","scale":{"domain":[0.53,6.47],"nice":false,"zero":false},"axis":{"orient":"top","values":[2,5],"labelExpr":"datum.value < 3 ? '23 °C' : '35 °C'","ticks":false,"domain":false,"title":null,"labelPadding":3,"labelFlush":false}},"x2":{"field":"e"},"fill":{"field":"c","type":"nominal","scale":{"domain":["cold","hot"],"range":["#B3D6EA","#F1C2B8"]},"legend":null}}},
{"data":{"name":"traits"},"transform":[{"filter":"datum.pn=='D'"}],"mark":{"type":"line","strokeWidth":1.5},"encoding":{"x":{"field":"x","type":"quantitative","axis":{"orient":"bottom","values":[1,2,3,4,5,6],"labelExpr":"['Yemen','Cali.','Brazil','Yemen','Cali.','Brazil'][datum.value-1]","labelAngle":-45,"title":null,"labelFlush":false}},"y":{"field":"v","type":"quantitative","scale":{"domain":[0,40],"nice":false},"axis":{"values":[0,10,20,30,40],"title":"Development time (days)"}},"color":{"field":"pop","type":"nominal","scale":{"domain":["Yemen","Cali.","Brazil"],"range":["#EF7D3F","#E3AA2C","#0D9B87"]},"legend":null},"detail":{"field":"g"},"order":{"field":"x"}}},
{"data":{"name":"traits"},"transform":[{"filter":"datum.pn=='D'"}],"mark":{"type":"rule","color":"#444444","strokeWidth":1},"encoding":{"x":{"field":"x","type":"quantitative","axis":null},"y":{"field":"lo","type":"quantitative"},"y2":{"field":"hi"}}},
{"data":{"name":"traits"},"transform":[{"filter":"datum.pn=='D'"}],"mark":{"type":"tick","orient":"horizontal","size":13,"thickness":1,"color":"#333333"},"encoding":{"x":{"field":"x","type":"quantitative","axis":null},"y":{"field":"lo","type":"quantitative"}}},
{"data":{"name":"traits"},"transform":[{"filter":"datum.pn=='D'"}],"mark":{"type":"tick","orient":"horizontal","size":13,"thickness":1,"color":"#333333"},"encoding":{"x":{"field":"x","type":"quantitative","axis":null},"y":{"field":"hi","type":"quantitative"}}},
{"data":{"name":"traits"},"transform":[{"filter":"datum.pn=='D'"}],"mark":{"type":"point","filled":true,"size":80,"opacity":1},"encoding":{"x":{"field":"x","type":"quantitative","axis":null},"y":{"field":"v","type":"quantitative"},"color":{"field":"pop","type":"nominal","legend":null}}},
{"data":{"name":"traits"},"transform":[{"filter":"datum.pn=='D'"}],"mark":{"type":"text","fontSize":7,"color":"#222222"},"encoding":{"x":{"field":"x","type":"quantitative","axis":null},"y":{"field":"v","type":"quantitative"},"text":{"field":"lab"}}}
]},
{"width":184,"height":160,
"resolve":{"axis":{"x":"independent"}},
"layer":[
{"data":{"name":"bands"},"mark":{"type":"rect"},"encoding":{"x":{"field":"s","type":"quantitative","scale":{"domain":[0.53,6.47],"nice":false,"zero":false},"axis":{"orient":"top","values":[2,5],"labelExpr":"datum.value < 3 ? '23 °C' : '35 °C'","ticks":false,"domain":false,"title":null,"labelPadding":3,"labelFlush":false}},"x2":{"field":"e"},"fill":{"field":"c","type":"nominal","scale":{"domain":["cold","hot"],"range":["#B3D6EA","#F1C2B8"]},"legend":null}}},
{"data":{"name":"traits"},"transform":[{"filter":"datum.pn=='W'"}],"mark":{"type":"line","strokeWidth":1.5},"encoding":{"x":{"field":"x","type":"quantitative","axis":{"orient":"bottom","values":[1,2,3,4,5,6],"labelExpr":"['Yemen','Cali.','Brazil','Yemen','Cali.','Brazil'][datum.value-1]","labelAngle":-45,"title":null,"labelFlush":false}},"y":{"field":"v","type":"quantitative","scale":{"domain":[0,6.67],"nice":false},"axis":{"values":[0,1,2,3,4,5,6],"title":"Adult weight (mg)"}},"color":{"field":"pop","type":"nominal","scale":{"domain":["Yemen","Cali.","Brazil"],"range":["#EF7D3F","#E3AA2C","#0D9B87"]},"legend":null},"detail":{"field":"g"},"order":{"field":"x"}}},
{"data":{"name":"traits"},"transform":[{"filter":"datum.pn=='W'"}],"mark":{"type":"rule","color":"#444444","strokeWidth":1},"encoding":{"x":{"field":"x","type":"quantitative","axis":null},"y":{"field":"lo","type":"quantitative"},"y2":{"field":"hi"}}},
{"data":{"name":"traits"},"transform":[{"filter":"datum.pn=='W'"}],"mark":{"type":"tick","orient":"horizontal","size":12,"thickness":1,"color":"#333333"},"encoding":{"x":{"field":"x","type":"quantitative","axis":null},"y":{"field":"lo","type":"quantitative"}}},
{"data":{"name":"traits"},"transform":[{"filter":"datum.pn=='W'"}],"mark":{"type":"tick","orient":"horizontal","size":12,"thickness":1,"color":"#333333"},"encoding":{"x":{"field":"x","type":"quantitative","axis":null},"y":{"field":"hi","type":"quantitative"}}},
{"data":{"name":"traits"},"transform":[{"filter":"datum.pn=='W'"}],"mark":{"type":"point","filled":true,"size":80,"opacity":1},"encoding":{"x":{"field":"x","type":"quantitative","axis":null},"y":{"field":"v","type":"quantitative"},"color":{"field":"pop","type":"nominal","legend":null}}},
{"data":{"name":"traits"},"transform":[{"filter":"datum.pn=='W'"}],"mark":{"type":"text","fontSize":7,"color":"#222222"},"encoding":{"x":{"field":"x","type":"quantitative","axis":null},"y":{"field":"v","type":"quantitative"},"text":{"field":"lab"}}}
]}
],"spacing":51,"bounds":"flush"},
{"vconcat":[
{"width":654,"height":182,
"title":{"text":"California 3 cold","offset":4},
"layer":[
{"data":{"name":"cloud"},"transform":[{"filter":"datum.pn==1 && datum.p=='g'"}],"mark":{"type":"area","color":"#BEBEBE"},"encoding":{"x":{"field":"x","type":"quantitative","scale":{"domain":[0,654],"nice":false,"zero":false},"axis":{"values":[59,123.3,185.7,247.3,306.7,364.3,420,470.7,513.3,540],"labelExpr":"['12','6','2','7','5','8','11','4','3','10'][indexof([59,123.3,185.7,247.3,306.7,364.3,420,470.7,513.3,540],datum.value)]","title":"Chromosome","labelPadding":4,"titlePadding":3,"domain":false}},"y":{"field":"y","type":"quantitative","scale":{"domain":[-1.3,39.7],"nice":false,"zero":false},"axis":{"values":[0,10,20,30],"title":"log odds","domain":false}},"y2":{"datum":0},"detail":{"field":"c"}}},
{"data":{"name":"cloud"},"transform":[{"filter":"datum.pn==1 && datum.p=='b'"}],"mark":{"type":"area","color":"#000000"},"encoding":{"x":{"field":"x","type":"quantitative"},"y":{"field":"y","type":"quantitative"},"y2":{"datum":0},"detail":{"field":"c"}}},
{"data":{"name":"spikes"},"transform":[{"filter":"datum.pn==1"}],"mark":{"type":"rule","strokeWidth":1.8},"encoding":{"x":{"field":"x","type":"quantitative"},"y":{"field":"y","type":"quantitative"},"y2":{"datum":0},"color":{"condition":{"test":"datum.p=='b'","value":"#000000"},"value":"#BEBEBE"}}},
{"data":{"name":"un"},"transform":[{"filter":"datum.pn==1"}],"mark":{"type":"rule","strokeWidth":1.4,"color":"#111111"},"encoding":{"x":{"field":"x","type":"quantitative"},"y":{"field":"y","type":"quantitative"},"y2":{"datum":0}}},
{"data":{"name":"sparse"},"transform":[{"filter":"datum.pn==1"}],"mark":{"type":"rule","strokeWidth":2.4,"strokeDash":[2,3],"color":"#BEBEBE"},"encoding":{"x":{"field":"x","type":"quantitative"},"y":{"field":"lo","type":"quantitative"},"y2":{"field":"hi"}}},
{"data":{"values":[{"t":9.77}]},"mark":{"type":"rule","color":"#F03C3C","strokeWidth":1},"encoding":{"y":{"field":"t","type":"quantitative"}}},
{"data":{"name":"chroms"},"mark":{"type":"rule","strokeWidth":2.5},"encoding":{"x":{"field":"s","type":"quantitative"},"x2":{"field":"e"},"y":{"datum":-1.0},"color":{"condition":{"test":"datum.p=='b'","value":"#000000"},"value":"#A8A8A8"}}},
{"data":{"name":"shared"},"transform":[{"filter":"datum.pn==1"}],"mark":{"type":"rule","strokeWidth":2.4},"encoding":{"x":{"field":"x","type":"quantitative"},"y":{"field":"lo","type":"quantitative"},"y2":{"field":"hi"},"color":{"condition":[{"test":"indexof(datum.s,'Cal')==0","value":"#E0AA30"},{"test":"indexof(datum.s,'Yem')==0","value":"#F47C3C"}],"value":"#13A08A"}}},
{"data":{"name":"shared"},"transform":[{"filter":"datum.pn==1"}],"mark":{"type":"point","filled":true,"size":14,"opacity":1},"encoding":{"x":{"field":"x","type":"quantitative"},"y":{"field":"hi","type":"quantitative"},"color":{"field":"s","type":"nominal","scale":{"domain":["Brazil 1|2","Yemen 5|6","California 4"],"range":["#13A08A","#F47C3C","#E0AA30"]},"legend":{"title":"Shared with:","orient":"top-right","offset":2,"strokeColor":"#777777","fillColor":"#ffffff","padding":5,"titleFontSize":10,"titleFontWeight":"normal","titleAnchor":"middle","labelFontSize":10,"symbolSize":36,"symbolType":"circle","rowPadding":3,"labelOffset":5,"titlePadding":3,"labelColor":"#222222","titleColor":"#222222"}}}}
]},
{"width":654,"height":181,
"title":{"text":"California 9 hot","offset":4},
"layer":[
{"data":{"name":"cloud"},"transform":[{"filter":"datum.pn==2 && datum.p=='g'"}],"mark":{"type":"area","color":"#BEBEBE"},"encoding":{"x":{"field":"x","type":"quantitative","scale":{"domain":[0,654],"nice":false,"zero":false},"axis":{"values":[59,123.3,185.7,247.3,306.7,364.3,420,470.7,513.3,540],"labelExpr":"['12','6','2','7','5','8','11','4','3','10'][indexof([59,123.3,185.7,247.3,306.7,364.3,420,470.7,513.3,540],datum.value)]","title":"Chromosome","labelPadding":4,"titlePadding":3,"domain":false}},"y":{"field":"y","type":"quantitative","scale":{"domain":[-0.56,19.84],"nice":false,"zero":false},"axis":{"values":[0,5,10,15],"title":"log odds","domain":false}},"y2":{"datum":0},"detail":{"field":"c"}}},
{"data":{"name":"cloud"},"transform":[{"filter":"datum.pn==2 && datum.p=='b'"}],"mark":{"type":"area","color":"#000000"},"encoding":{"x":{"field":"x","type":"quantitative"},"y":{"field":"y","type":"quantitative"},"y2":{"datum":0},"detail":{"field":"c"}}},
{"data":{"name":"spikes"},"transform":[{"filter":"datum.pn==2"}],"mark":{"type":"rule","strokeWidth":1.8},"encoding":{"x":{"field":"x","type":"quantitative"},"y":{"field":"y","type":"quantitative"},"y2":{"datum":0},"color":{"condition":{"test":"datum.p=='b'","value":"#000000"},"value":"#BEBEBE"}}},
{"data":{"name":"un"},"transform":[{"filter":"datum.pn==2"}],"mark":{"type":"rule","strokeWidth":1.4,"color":"#111111"},"encoding":{"x":{"field":"x","type":"quantitative"},"y":{"field":"y","type":"quantitative"},"y2":{"datum":0}}},
{"data":{"name":"sparse"},"transform":[{"filter":"datum.pn==2"}],"mark":{"type":"rule","strokeWidth":2.4,"strokeDash":[2,3],"color":"#BEBEBE"},"encoding":{"x":{"field":"x","type":"quantitative"},"y":{"field":"lo","type":"quantitative"},"y2":{"field":"hi"}}},
{"data":{"values":[{"t":7.89}]},"mark":{"type":"rule","color":"#F03C3C","strokeWidth":1},"encoding":{"y":{"field":"t","type":"quantitative"}}},
{"data":{"name":"chroms"},"mark":{"type":"rule","strokeWidth":2.5},"encoding":{"x":{"field":"s","type":"quantitative"},"x2":{"field":"e"},"y":{"datum":-0.42},"color":{"condition":{"test":"datum.p=='b'","value":"#000000"},"value":"#A8A8A8"}}},
{"data":{"name":"shared"},"transform":[{"filter":"datum.pn==2"}],"mark":{"type":"rule","strokeWidth":2.4},"encoding":{"x":{"field":"x","type":"quantitative"},"y":{"field":"lo","type":"quantitative"},"y2":{"field":"hi"},"color":{"condition":[{"test":"indexof(datum.s,'Cal')==0","value":"#E0AA30"},{"test":"indexof(datum.s,'Yem')==0","value":"#F47C3C"}],"value":"#13A08A"}}},
{"data":{"name":"shared"},"transform":[{"filter":"datum.pn==2"}],"mark":{"type":"point","filled":true,"size":14,"opacity":1},"encoding":{"x":{"field":"x","type":"quantitative"},"y":{"field":"hi","type":"quantitative"},"color":{"field":"s","type":"nominal","scale":{"domain":["Brazil 7|8","Yemen 11|12","California 10"],"range":["#13A08A","#F47C3C","#E0AA30"]},"legend":{"title":"Shared with:","orient":"top-right","offset":2,"strokeColor":"#777777","fillColor":"#ffffff","padding":5,"titleFontSize":10,"titleFontWeight":"normal","titleAnchor":"middle","labelFontSize":10,"symbolSize":36,"symbolType":"circle","rowPadding":3,"labelOffset":5,"titlePadding":3,"labelColor":"#222222","titleColor":"#222222"}}}}
]}
],"spacing":56,"bounds":"flush",
"resolve":{"scale":{"color":"independent"},"legend":{"color":"independent"}},
"title":{"text":"b","anchor":"start","frame":"bounds","fontSize":13,"fontWeight":"bold","offset":-10,"dx":-3,"color":"#000000"}}
]
}
